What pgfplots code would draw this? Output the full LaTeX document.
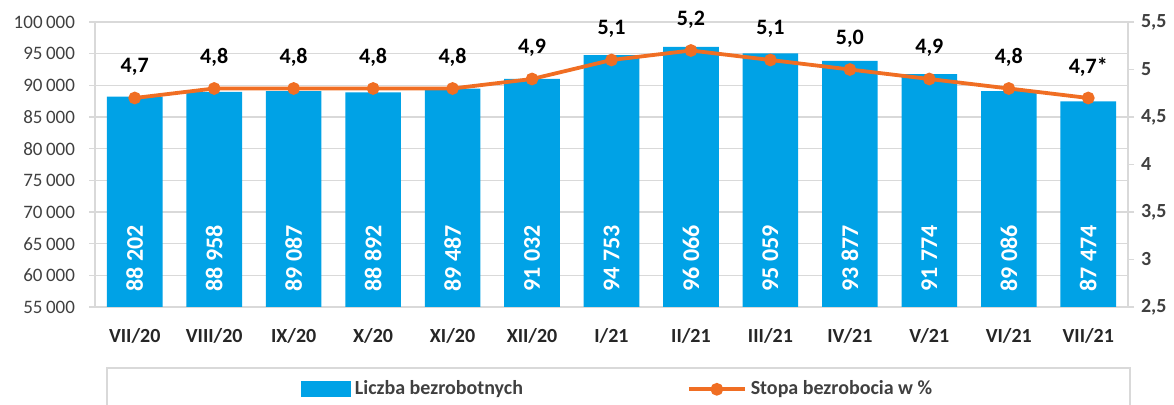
\documentclass[border=0pt]{standalone}
\usepackage{pgfplots}
\pgfplotsset{compat=1.18}
\usepackage{pgfplotstable}
\usepackage{fontspec}
\setmainfont{Carlito}
\definecolor{barblue}{RGB}{0,162,230}
\definecolor{lineorange}{RGB}{240,110,35}
\definecolor{gridgray}{RGB}{217,217,217}
\definecolor{ticktext}{RGB}{64,64,64}

\pgfplotstableread[col sep=semicolon]{
x;n;lab;ly
0;88202;88 202;62700
1;88958;88 958;62700
2;89087;89 087;62700
3;88892;88 892;62700
4;89487;89 487;62700
5;91032;91 032;62700
6;94753;94 753;62700
7;96066;96 066;62700
8;95059;95 059;62700
9;93877;93 877;62700
10;91774;91 774;62700
11;89086;89 086;62700
12;87474;87 474;62700
}\bars

\pgfplotstableread[col sep=semicolon]{
x;r;lab
0;4.7;4,7
1;4.8;4,8
2;4.8;4,8
3;4.8;4,8
4;4.8;4,8
5;4.9;4,9
6;5.1;5,1
7;5.2;5,2
8;5.1;5,1
9;5.0;5,0
10;4.9;4,9
11;4.8;4,8
12;4.7;4,7*
}\rates

\begin{document}
\begin{tikzpicture}
\useasboundingbox (0,0) rectangle (587pt,202.5pt);
\begin{axis}[
  at={(47.5pt,49pt)}, anchor=south west,
  scale only axis, width=516.5pt, height=142.5pt,
  xmin=-0.5, xmax=12.5, ymin=55000, ymax=100000,
  xtick={0,...,12},
  xticklabels={VII/20,VIII/20,IX/20,X/20,XI/20,XII/20,I/21,II/21,III/21,IV/21,V/21,VI/21,VII/21},
  ytick={55000,60000,...,100000},
  scaled y ticks=false,
  ymajorgrids, grid style={gridgray, line width=0.8pt},
  axis line style={gridgray, line width=0.8pt},
  xtick style={draw=none},
  ytick pos=left, tick align=outside, major tick length=3pt,
  ytick style={gridgray, line width=0.8pt},
  yticklabel style={font=\fontsize{9.5}{11}\selectfont, text=ticktext, xshift=-3.5pt,
    /pgf/number format/.cd, fixed, precision=0, assume math mode=true, 1000 sep={\hspace{0.18em}}},
  xticklabel style={font=\bfseries\fontsize{10}{12}\selectfont, text=black!85, yshift=-4pt},
]
\addplot[ybar, bar width=0.7, fill=barblue, draw=none] table[x=x, y=n] {\bars};
\addplot[draw=none, nodes near coords, point meta=explicit symbolic,
  nodes near coords style={anchor=center, rotate=90, text=white, font=\bfseries\fontsize{12}{14}\selectfont}]
  table[x=x, y=ly, meta=lab] {\bars};
\end{axis}
\begin{axis}[
  at={(47.5pt,49pt)}, anchor=south west,
  scale only axis, width=516.5pt, height=142.5pt,
  xmin=-0.5, xmax=12.5, ymin=2.5, ymax=5.5,
  hide x axis,
  axis y line*=right,
  axis line style={draw=none},
  ytick={2.5,3,3.5,4,4.5,5,5.5},
  tick align=outside, major tick length=3pt,
  ytick style={gridgray, line width=0.8pt},
  yticklabel style={font=\bfseries\fontsize{10}{12}\selectfont, text=ticktext,
    /pgf/number format/.cd, use comma, fixed, precision=1, assume math mode=true},
  clip=false,
  legend columns=2,
  legend style={at={(0.507,-0.2105)}, anchor=north, draw=gridgray, line width=0.8pt,
    inner xsep=97pt, inner ysep=4.5pt, font=\bfseries\fontsize{10}{12}\selectfont, text=ticktext,
    /tikz/every even column/.append style={column sep=80pt}},
]
\addlegendimage{legend image code/.code={\fill[barblue] (0pt,-3.5pt) rectangle (24pt,3.5pt);}}
\addlegendentry{Liczba bezrobotnych}
\addplot[lineorange, line width=1.9pt, mark=*, mark size=2.2pt,
  mark options={fill=lineorange, draw=lineorange},
  nodes near coords, point meta=explicit symbolic,
  nodes near coords style={anchor=center, yshift=15.5pt, text=black, font=\bfseries\fontsize{11}{13}\selectfont},
  legend image code/.code={\draw[lineorange, line width=1.9pt] (0pt,0pt) -- (28pt,0pt); \fill[lineorange] (14pt,0pt) circle (2.2pt);}]
  table[x=x, y=r, meta=lab] {\rates};
\addlegendentry{Stopa bezrobocia w \%}
\end{axis}
\end{tikzpicture}
\end{document}
